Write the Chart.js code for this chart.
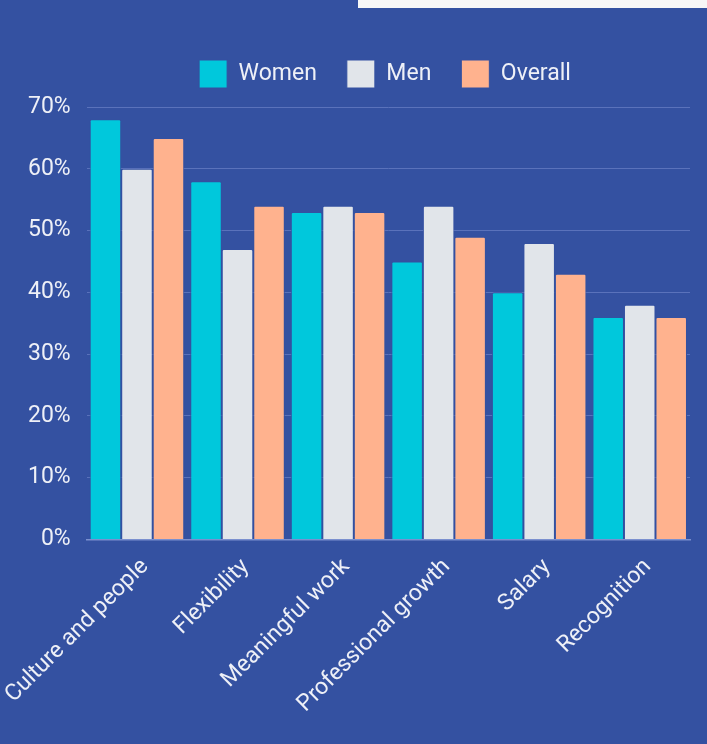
<!DOCTYPE html>
<html>
<head>
<meta charset="utf-8">
<script src="https://cdn.jsdelivr.net/npm/chart.js@4/dist/chart.umd.min.js"></script>
<style>
  html, body { margin: 0; padding: 0; background: #3451a1; }
  #wrap { position: relative; width: 707px; height: 744px; }
  #strip { position: absolute; left: 358px; top: 0; width: 349px; height: 8px; background: #f7f7f7; }
</style>
</head>
<body>
<div id="wrap">
  <canvas id="chart_bars" width="707" height="744"></canvas>
  <div id="strip"></div>
</div>
<script>
	'use strict';

	/* =========== Data ================= */
	var categories = ["Culture and people", "Flexibility", "Meaningful work", "Professional growth", "Salary", "Recognition"];
	var women   = [68, 58, 53, 45, 40, 36];
	var men     = [60, 47, 54, 54, 48, 38];
	var overall = [65, 54, 53, 49, 43, 36];
	var yTicks  = [0, 10, 20, 30, 40, 50, 60, 70];
	/* ------------------------------------------------ */

	var bg = '#3451a1';
	var txt = '#eef0f7';
	var font = { family: 'Roboto', size: 23 };

	// extra room under the legend, and legend nudged right
	var legendGap = {
		id: 'legendGap',
		beforeInit: function (chart) {
			var fit = chart.legend.fit;
			chart.legend.fit = function () {
				fit.call(this);
				this.height += 9;
			};
		},
		afterLayout: function (chart) {
			chart.legend.left += 34;
			chart.legend.right += 34;
		}
	};

	var ctx = document.getElementById('chart_bars');
	var chart_bars = new Chart(ctx, {
		type: 'bar',
		data: {
			labels: categories,
			datasets: [
				{ label: 'Women',   data: women,   backgroundColor: '#00c8dc' },
				{ label: 'Men',     data: men,     backgroundColor: '#e1e5ea' },
				{ label: 'Overall', data: overall, backgroundColor: '#ffb28e' }
			]
		},
		options: {
			responsive: false,
			animation: false,
			layout: { padding: { top: 30, right: 17, bottom: 12, left: 12 } },
			datasets: {
				bar: {
					barPercentage: 1,
					categoryPercentage: 0.94,
					borderWidth: 1,
					borderColor: bg,
					borderRadius: 2,
					borderSkipped: 'bottom'
				}
			},
			plugins: {
				legend: {
					labels: {
						color: txt,
						font: font,
						boxWidth: 28,
						boxHeight: 28,
						padding: 30
					}
				},
				tooltip: { enabled: false }
			},
			scales: {
				x: {
					grid: { display: false, drawTicks: false },
					border: { color: '#7b90cf', width: 1.5 },
					ticks: {
						color: txt,
						font: font,
						minRotation: 45,
						maxRotation: 45,
						padding: 14,
						labelOffset: 8
					},
					// let the first rotated label run to the canvas edge
					afterFit: function (axis) {
						axis.paddingLeft = 0;
						axis.paddingRight = 0;
					}
				},
				y: {
					min: 0,
					max: 70,
					afterBuildTicks: function (axis) {
						axis.ticks = yTicks.map(function (v) { return { value: v }; });
					},
					grid: { color: '#5a72bb', drawTicks: false },
					border: { display: false },
					ticks: {
						color: txt,
						font: font,
						padding: 16,
						callback: function (v) { return v + '%'; }
					}
				}
			}
		},
		plugins: [legendGap]
	});
</script>
</body>
</html>
